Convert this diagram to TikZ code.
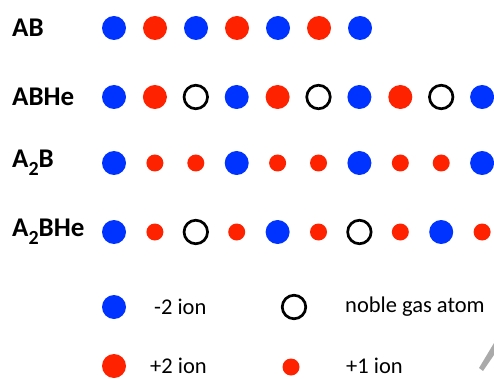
\documentclass[tikz,border=0pt]{standalone}
\usepackage{fontspec}
\setmainfont{Carlito}
\definecolor{ionblue}{RGB}{0,51,255}
\definecolor{ionred}{RGB}{255,34,0}
\definecolor{arrowgray}{RGB}{170,170,170}
\begin{document}
\begin{tikzpicture}[x=1pt,y=-1pt,
  neg/.style={circle,fill=ionblue,inner sep=0pt,minimum size=24pt},
  postwo/.style={circle,fill=ionred,inner sep=0pt,minimum size=24pt},
  posone/.style={circle,fill=ionred,inner sep=0pt,minimum size=17pt},
  gas/.style={circle,draw=black,line width=2.7pt,inner sep=0pt,minimum size=23.5pt},
  rowlabel/.style={anchor=west,inner sep=0pt,font=\fontsize{27}{32}\selectfont\bfseries},
  legtext/.style={anchor=west,inner sep=0pt,font=\fontsize{22.5}{26}\selectfont}]
\useasboundingbox (0,0) rectangle (494,379);
% row labels
\node[rowlabel] (lAB) at (12,28) {AB};
\node[rowlabel] (lABHe) at (12,97) {ABHe};
\node[rowlabel] (lAtwoB) at (12,163) {A\raisebox{-0.3em}{\fontsize{20}{24}\selectfont 2}B};
\node[rowlabel] (lAtwoBHe) at (12,232) {A\raisebox{-0.3em}{\fontsize{20}{24}\selectfont 2}BHe};
% row 1
\foreach \s [count=\i from 0] in {neg,postwo,neg,postwo,neg,postwo,neg}
  \node[\s] (r1c\i) at (114+41*\i,28) {};
% row 2
\foreach \s [count=\i from 0] in {neg,postwo,gas,neg,postwo,gas,neg,postwo,gas,neg}
  \node[\s] (r2c\i) at (114+40.9*\i,97) {};
% row 3
\foreach \s [count=\i from 0] in {neg,posone,posone,neg,posone,posone,neg,posone,posone,neg}
  \node[\s] (r3c\i) at (114+40.9*\i,163) {};
% row 4
\foreach \s [count=\i from 0] in {neg,posone,gas,posone,neg,posone,gas,posone,neg,posone}
  \node[\s] (r4c\i) at (114+40.9*\i,232) {};
% legend
\node[neg] (kneg) at (114,307) {};
\node[legtext] (tneg) at (154,307) {-2 ion};
\node[gas] (kgas) at (294,307) {};
\node[legtext] (tgas) at (345,307) {noble gas atom};
\node[postwo] (kpostwo) at (114,366) {};
\node[legtext] (tpostwo) at (150,366) {+2 ion};
\node[posone] (kposone) at (291,367) {};
\node[legtext] (tposone) at (346,366) {+1 ion};
% partial grey arrow at corner
\fill[arrowgray] (479,368) -- (483,371) -- (494,355) -- (494,343) -- cycle;
\end{tikzpicture}
\end{document}
